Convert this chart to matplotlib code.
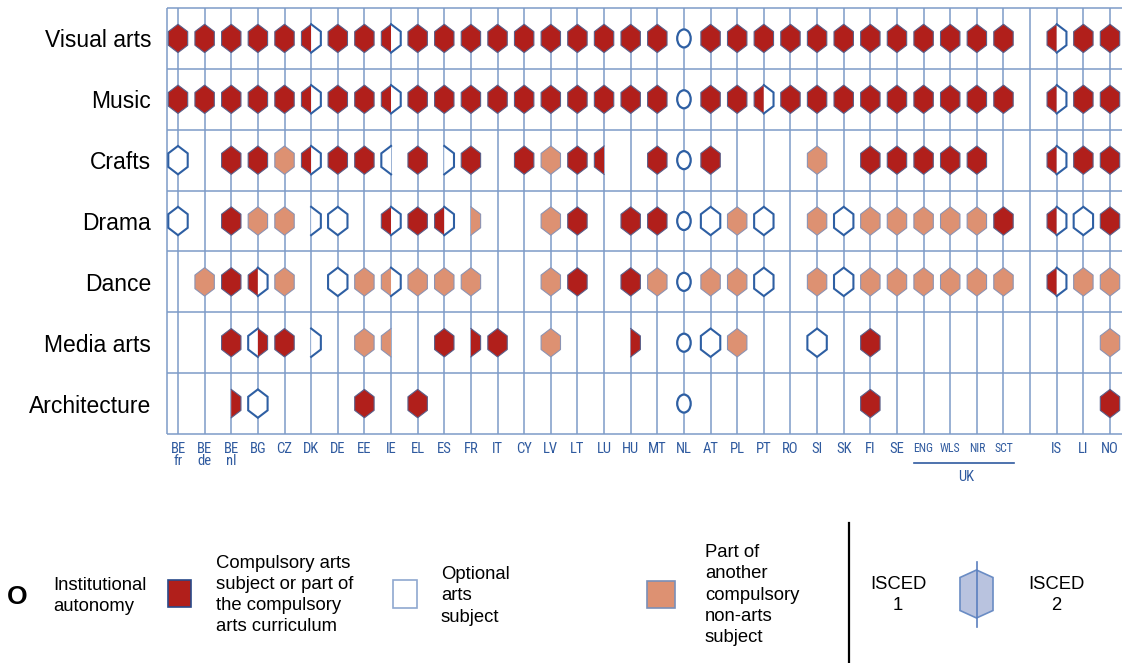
import matplotlib
matplotlib.use('Agg')
import numpy as np
import matplotlib.pyplot as plt
import matplotlib.transforms as mtrans
from matplotlib.patches import Polygon, Ellipse, Rectangle
from matplotlib import font_manager as fm

# ---------------- data ----------------
countries = ['BE\nfr', 'BE\nde', 'BE\nnl', 'BG', 'CZ', 'DK', 'DE', 'EE', 'IE', 'EL', 'ES', 'FR',
             'IT', 'CY', 'LV', 'LT', 'LU', 'HU', 'MT', 'NL', 'AT', 'PL', 'PT', 'RO', 'SI', 'SK',
             'FI', 'SE', 'ENG', 'WLS', 'NIR', 'SCT', '', 'IS', 'LI', 'NO']
uk_labels = ['ENG', 'WLS', 'NIR', 'SCT']
subjects = ['Visual arts', 'Music', 'Crafts', 'Drama', 'Dance', 'Media arts', 'Architecture']

# codes: two chars = (ISCED 1 status, ISCED 2 status)
# C compulsory, O optional, P part of another compulsory subject, - none; A institutional autonomy
visual_arts = ['CC', 'CC', 'CC', 'CC', 'CC', 'CO', 'CC', 'CC', 'CO', 'CC', 'CC', 'CC',
               'CC', 'CC', 'CC', 'CC', 'CC', 'CC', 'CC', 'A', 'CC', 'CC', 'CC', 'CC', 'CC', 'CC',
               'CC', 'CC', 'CC', 'CC', 'CC', 'CC', '--', 'CO', 'CC', 'CC']
music = ['CC', 'CC', 'CC', 'CC', 'CC', 'CO', 'CC', 'CC', 'CO', 'CC', 'CC', 'CC',
         'CC', 'CC', 'CC', 'CC', 'CC', 'CC', 'CC', 'A', 'CC', 'CC', 'CO', 'CC', 'CC', 'CC',
         'CC', 'CC', 'CC', 'CC', 'CC', 'CC', '--', 'CO', 'CC', 'CC']
crafts = ['OO', '--', 'CC', 'CC', 'PP', 'CO', 'CC', 'CC', 'O-', 'CC', '-O', 'CC',
          '--', 'CC', 'PP', 'CC', 'C-', '--', 'CC', 'A', 'CC', '--', '--', '--', 'PP', '--',
          'CC', 'CC', 'CC', 'CC', 'CC', '--', '--', 'CO', 'CC', 'CC']
drama = ['OO', '--', 'CC', 'PP', 'PP', '-O', 'OO', '--', 'CO', 'CC', 'CO', '-P',
         '--', '--', 'PP', 'CC', '--', 'CC', 'CC', 'A', 'OO', 'PP', 'OO', '--', 'PP', 'OO',
         'PP', 'PP', 'PP', 'PP', 'PP', 'CC', '--', 'CO', 'OO', 'CC']
dance = ['--', 'PP', 'CC', 'CO', 'PP', '--', 'OO', 'PP', 'PO', 'PP', 'PP', 'PP',
         '--', '--', 'PP', 'CC', '--', 'CC', 'PP', 'A', 'PP', 'PP', 'OO', '--', 'PP', 'OO',
         'PP', 'PP', 'PP', 'PP', 'PP', 'PP', '--', 'CO', 'PP', 'PP']
media_arts = ['--', '--', 'CC', 'OC', 'CC', '-O', '--', 'PP', 'P-', '--', 'CC', '-C',
              'CC', '--', 'PP', '--', '--', '-C', '--', 'A', 'OO', 'PP', '--', '--', 'OO', '--',
              'CC', '--', '--', '--', '--', '--', '--', '--', '--', 'PP']
architecture = ['--', '--', '-C', 'OO', '--', '--', '--', 'CC', '--', 'CC', '--', '--',
                '--', '--', '--', '--', '--', '--', '--', 'A', '--', '--', '--', '--', '--', '--',
                'CC', '--', '--', '--', '--', '--', '--', '--', '--', 'CC']
rows = [visual_arts, music, crafts, drama, dance, media_arts, architecture]

legend_labels = ['Institutional\nautonomy',
                 'Compulsory arts\nsubject or part of\nthe compulsory\narts curriculum',
                 'Optional\narts\nsubject',
                 'Part of\nanother\ncompulsory\nnon-arts\nsubject']
isced_labels = ['ISCED\n1', 'ISCED\n2']

# ---------------- style ----------------
RED = '#b11f1b'
RED_EDGE = '#5a5f8a'
SAL = '#dd9172'
SAL_EDGE = '#8c93b3'
OUT = '#2e5fa3'
GRID = '#7d9bc8'
LBL = '#2f5a9f'
FONT = 'Liberation Sans'


def narrow_font():
    prefs = ['Liberation Sans Narrow', 'DejaVu Sans Condensed', 'Roboto Condensed',
             'Open Sans Condensed', 'Noto Sans Condensed']
    def is_regular(f):
        w = f.weight
        return f.style == 'normal' and (w in (400, 'normal', 'regular', 'book'))
    for p in prefs:
        for f in fm.fontManager.ttflist:
            if f.name == p and is_regular(f):
                return fm.FontProperties(fname=f.fname), True
    for f in fm.fontManager.ttflist:
        if f.stretch in ('condensed', 'extra-condensed', 'ultra-condensed', 'semi-condensed') and is_regular(f):
            return fm.FontProperties(fname=f.fname), True
    return fm.FontProperties(family='DejaVu Sans'), False


W, H = 1130, 663
fig = plt.figure(figsize=(W / 100, H / 100), dpi=100)

# overlay axes in pixel units for the legend
lax = fig.add_axes([0, 0, 1, 1])
lax.set_xlim(0, W)
lax.set_ylim(H, 0)
lax.axis('off')

# main grid axes
gx0, gx1, gy0, gy1 = 167, 1122, 8, 434
ax = fig.add_axes([gx0 / W, (H - gy1) / H, (gx1 - gx0) / W, (gy1 - gy0) / H])
ncol = len(countries)
nrow = len(subjects)
step = (1110 - 178) / (ncol - 1)
rowpx = (gy1 - gy0) / nrow
xl0, xl1 = -(178 - gx0) / step, (ncol - 1) + (gx1 - 1110) / step
ax.set_xlim(xl0, xl1)
ax.set_ylim(nrow - 0.5, -0.5)
for s in ax.spines.values():
    s.set_visible(False)

ax.vlines(np.arange(ncol), -0.5, nrow - 0.5, color=GRID, lw=1.1, zorder=1)
ax.vlines([xl0], -0.5, nrow - 0.5, color=GRID, lw=1.1, zorder=1, clip_on=False)
ax.hlines(np.arange(-0.5, nrow), xl0, xl1, color=GRID, lw=1.1, zorder=1, clip_on=False)

HW = 9.7 / step
HH = 14.2 / rowpx
HS = 6.8 / rowpx


def half_pts(cx, cy, side):
    return [(cx, cy - HH), (cx + side * HW, cy - HS), (cx + side * HW, cy + HS), (cx, cy + HH)]


def full_pts(cx, cy):
    return [(cx, cy - HH), (cx + HW, cy - HS), (cx + HW, cy + HS), (cx, cy + HH),
            (cx - HW, cy + HS), (cx - HW, cy - HS)]


STY = {'C': (RED, RED_EDGE, 0.8), 'P': (SAL, SAL_EDGE, 0.8), 'O': ('white', OUT, 1.5)}


def draw_cell(cx, cy, code):
    if code == 'A':
        ax.add_patch(Ellipse((cx, cy), 13.5 / step, 18 / rowpx, fc='white', ec=OUT, lw=1.6, zorder=3))
        return
    l, r = code[0], code[1]
    if l == r and l != '-':
        fc, ec, lw = STY[l]
        ax.add_patch(Polygon(full_pts(cx, cy), closed=True, fc=fc, ec=ec, lw=lw, zorder=3,
                             joinstyle='miter'))
        return
    for side, s in ((-1, l), (1, r)):
        if s == '-':
            continue
        fc, ec, lw = STY[s]
        pts = half_pts(cx, cy, side)
        ax.add_patch(Polygon(pts, closed=True, fc=fc, ec='none', zorder=3))
        xs, ys = zip(*pts)
        ax.plot(xs, ys, color=ec, lw=lw, zorder=4, solid_joinstyle='miter')


for ri, row in enumerate(rows):
    for ci, code in enumerate(row):
        if code != '--':
            draw_cell(ci, ri, code)

# axis labels
nfp, is_narrow = narrow_font()
ax.set_xticks(np.arange(ncol))
ax.set_xticklabels(countries)
for lab in ax.get_xticklabels():
    lab.set_fontproperties(nfp)
    lab.set_color(LBL)
    lab.set_linespacing(0.85)
    lab.set_fontsize(10.5 if is_narrow else 8.5)
    if lab.get_text() in uk_labels:
        lab.set_fontsize(8.5 if is_narrow else 7)
ax.tick_params(axis='x', length=0, pad=5.5)

ax.set_yticks(np.arange(nrow))
ax.set_yticklabels(subjects, fontsize=16.5, family=FONT, color='black')
ax.tick_params(axis='y', length=0, pad=11.5)

# UK bracket
bt = mtrans.blended_transform_factory(ax.transData, ax.transAxes)
uk_idx = [countries.index(u) for u in uk_labels]
ax.plot([uk_idx[0] - 0.37, uk_idx[-1] + 0.38], [-0.068, -0.068], color=LBL, lw=1.2,
        transform=bt, clip_on=False)
ax.text(np.mean(uk_idx) + 0.1, -0.102, 'UK', transform=bt, ha='center', va='center',
        fontproperties=nfp, fontsize=10.5 if is_narrow else 8.5, color=LBL)

# ---------------- legend ----------------
TS = 13.3
LS = 1.33
lax.text(17.5, 597, 'O', fontsize=19, fontweight='bold', family=FONT, ha='center', va='center')
lax.text(53, 596, legend_labels[0], fontsize=TS, family=FONT, ha='left', va='center', linespacing=LS)
lax.add_patch(Rectangle((168, 580), 23, 27, fc=RED, ec='#2a4a8a', lw=1.2))
lax.text(216, 595, legend_labels[1], fontsize=TS, family=FONT, ha='left', va='center', linespacing=LS)
lax.add_patch(Rectangle((393, 580), 24, 28, fc='white', ec='#8fa8d0', lw=1.2))
lax.text(441, 596, legend_labels[2], fontsize=TS, family=FONT, ha='left', va='center', linespacing=LS)
lax.add_patch(Rectangle((647, 581), 28, 27, fc=SAL, ec='#7a8fb8', lw=1.2))
lax.text(705, 595, legend_labels[3], fontsize=TS, family=FONT, ha='left', va='center', linespacing=LS)
lax.plot([849, 849], [523, 663], color='black', lw=1.6)
lax.text(898, 595, isced_labels[0], fontsize=TS, family=FONT, ha='center', va='center', linespacing=LS)
lax.text(1056, 595, isced_labels[1], fontsize=TS, family=FONT, ha='center', va='center', linespacing=LS)
hx, hy = 976.5, 594
lax.add_patch(Polygon([(hx, hy - 24), (hx + 16.5, hy - 16.5), (hx + 16.5, hy + 16.5), (hx, hy + 24),
                       (hx - 16.5, hy + 16.5), (hx - 16.5, hy - 16.5)], closed=True,
                      fc='#b9c3df', ec='#6a8cc4', lw=1.2))
lax.plot([hx, hx], [562, 627], color='#5b7fbf', lw=1.2)

fig.savefig('out.png', dpi=100)
